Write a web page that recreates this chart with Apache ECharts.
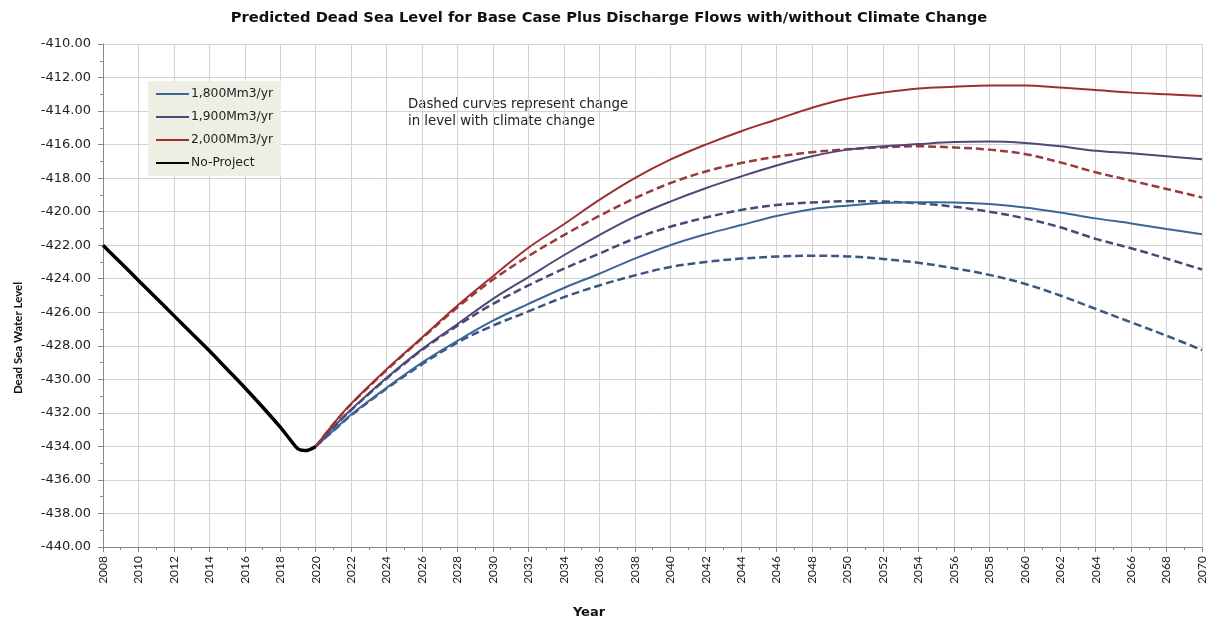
<!DOCTYPE html>
<html>
<head>
<meta charset="utf-8">
<script src="https://cdn.jsdelivr.net/npm/echarts@6/dist/echarts.min.js"></script>
<style>
html,body{margin:0;padding:0;background:#fff;}
#chart{width:1218px;height:624px;}
</style>
</head>
<body>
<div id="chart"></div>
<script>
// ---- data ----
const noProjectYears  = [2008, 2009, 2010, 2011, 2012, 2013, 2014, 2015, 2016, 2017, 2018, 2018.6, 2019.0, 2019.4, 2020];
const noProjectLevels = [-422.0, -423.05, -424.1, -425.15, -426.2, -427.25, -428.3, -429.4, -430.5, -431.65, -432.85, -433.65, -434.15, -434.25, -434.0];

const projYears = [2020, 2021, 2022, 2024, 2026, 2028, 2030, 2032, 2034, 2036, 2038, 2040, 2042, 2044, 2046, 2048, 2050, 2052, 2054, 2056, 2058, 2060, 2062, 2064, 2066, 2068, 2070];

const flow1800   = [-434.0, -433.05, -432.1, -430.5, -429.0, -427.7, -426.5, -425.5, -424.55, -423.7, -422.8, -422.0, -421.35, -420.8, -420.26, -419.85, -419.64, -419.48, -419.44, -419.45, -419.55, -419.75, -420.05, -420.4, -420.7, -421.03, -421.35];
const flow1800CC = [-434.0, -433.07, -432.15, -430.55, -429.1, -427.8, -426.8, -425.95, -425.1, -424.4, -423.8, -423.3, -423.0, -422.8, -422.68, -422.63, -422.67, -422.82, -423.05, -423.37, -423.77, -424.3, -425.0, -425.8, -426.6, -427.4, -428.25];
const flow1900   = [-434.0, -432.85, -431.8, -429.9, -428.2, -426.7, -425.2, -423.9, -422.6, -421.4, -420.3, -419.4, -418.6, -417.9, -417.25, -416.7, -416.3, -416.1, -415.97, -415.85, -415.82, -415.9, -416.1, -416.37, -416.52, -416.7, -416.88];
const flow1900CC = [-434.0, -432.87, -431.83, -429.95, -428.25, -426.8, -425.5, -424.4, -423.4, -422.5, -421.6, -420.9, -420.35, -419.9, -419.6, -419.45, -419.38, -419.4, -419.5, -419.7, -420.0, -420.4, -420.93, -421.62, -422.18, -422.8, -423.45];
const flow2000   = [-434.0, -432.65, -431.45, -429.4, -427.5, -425.6, -423.85, -422.15, -420.75, -419.3, -418.0, -416.9, -416.0, -415.2, -414.5, -413.8, -413.25, -412.9, -412.65, -412.55, -412.47, -412.47, -412.6, -412.75, -412.9, -413.0, -413.1];
const flow2000CC = [-434.0, -432.67, -431.48, -429.45, -427.55, -425.7, -424.05, -422.65, -421.4, -420.25, -419.2, -418.3, -417.6, -417.1, -416.72, -416.45, -416.28, -416.16, -416.1, -416.17, -416.3, -416.56, -417.06, -417.65, -418.15, -418.65, -419.15];

const legendNames = ['1,800Mm3/yr', '1,900Mm3/yr', '2,000Mm3/yr', 'No-Project'];
const titleText = 'Predicted Dead Sea Level for Base Case Plus Discharge Flows with/without Climate Change';
const noteLines = ['Dashed curves represent change', 'in level with climate change'];
const yAxisTitle = 'Dead Sea Water Level';
const xAxisTitle = 'Year';

// ---- chart ----
const FONT = 'Lato, "Open Sans", sans-serif';
const WIDE = '"DejaVu Sans", sans-serif';
const pairs = (xs, ys) => xs.map((x, i) => [x, ys[i]]);

function lineSeries(name, xs, ys, color, width, dashed) {
  return {
    name: name,
    type: 'line',
    data: pairs(xs, ys),
    smooth: 0.35,
    symbol: 'none',
    showSymbol: false,
    lineStyle: { color: color, width: width, type: dashed ? [8, 4] : 'solid' },
    itemStyle: { color: color },
    emphasis: { disabled: true },
    z: dashed ? 2 : 3
  };
}

const chart = echarts.init(document.getElementById('chart'), null, { renderer: 'canvas' });
chart.setOption({
  animation: false,
  backgroundColor: '#ffffff',
  textStyle: { fontFamily: FONT },
  title: {
    text: titleText,
    left: 'center',
    top: 6,
    textStyle: { fontFamily: WIDE, fontSize: 14.7, fontWeight: 'bold', color: '#111' }
  },
  grid: { left: 103, right: 16, top: 44, bottom: 77, containLabel: false },
  legend: {
    data: legendNames,
    orient: 'vertical',
    left: 148,
    top: 81,
    backgroundColor: '#EDEFE5',
    padding: [7, 8, 7, 7],
    itemWidth: 33,
    itemHeight: 10,
    itemGap: 11,
    itemStyle: { opacity: 0 },
    textStyle: { fontFamily: WIDE, fontSize: 12.3, color: '#222', padding: [0, 0, 0, -3] },
    selectedMode: false
  },
  xAxis: {
    type: 'value',
    min: 2008,
    max: 2070,
    interval: 2,
    axisLine: { show: true, onZero: false, lineStyle: { color: '#888', width: 1 } },
    axisTick: { show: true, length: 5, lineStyle: { color: '#888' } },
    minorTick: { show: true, splitNumber: 2, length: 3, lineStyle: { color: '#888' } },
    splitLine: { show: true, lineStyle: { color: '#D2D2D2', width: 1 } },
    axisLabel: { rotate: 90, fontSize: 12, color: '#222', margin: 9, fontFamily: FONT, formatter: v => String(v) }
  },
  yAxis: {
    type: 'value',
    min: -440,
    max: -410,
    interval: 2,
    axisLine: { show: true, lineStyle: { color: '#888', width: 1 } },
    axisTick: { show: true, length: 5, lineStyle: { color: '#888' } },
    minorTick: { show: true, splitNumber: 2, length: 3, lineStyle: { color: '#888' } },
    splitLine: { show: true, lineStyle: { color: '#D2D2D2', width: 1 } },
    axisLabel: { fontSize: 13, color: '#222', margin: 12, fontFamily: WIDE, formatter: v => v.toFixed(2) }
  },
  graphic: [
    {
      type: 'text', left: 408, top: 96,
      style: { text: noteLines.join('\n'), font: '13.3px ' + WIDE, fill: '#222', lineHeight: 17 }
    },
    {
      type: 'text', x: 18, y: 338, rotation: Math.PI / 2,
      style: { text: yAxisTitle, font: 'bold 11.5px ' + FONT, fill: '#111', align: 'center', verticalAlign: 'middle' }
    },
    {
      type: 'text', x: 589, y: 613,
      style: { text: xAxisTitle, font: 'bold 13px ' + WIDE, fill: '#111', align: 'center', verticalAlign: 'middle' }
    }
  ],
  series: [
    lineSeries('1,800Mm3/yr CC', projYears, flow1800CC, '#3D5583', 2.5, true),
    lineSeries('1,900Mm3/yr CC', projYears, flow1900CC, '#454A72', 2.5, true),
    lineSeries('2,000Mm3/yr CC', projYears, flow2000CC, '#9A3A3C', 2.5, true),
    lineSeries('1,800Mm3/yr', projYears, flow1800, '#3B6798', 2, false),
    lineSeries('1,900Mm3/yr', projYears, flow1900, '#4F4778', 2, false),
    lineSeries('2,000Mm3/yr', projYears, flow2000, '#9E2F30', 2, false),
    lineSeries('No-Project', noProjectYears, noProjectLevels, '#000000', 3.5, false)
  ]
});
</script>
</body>
</html>
